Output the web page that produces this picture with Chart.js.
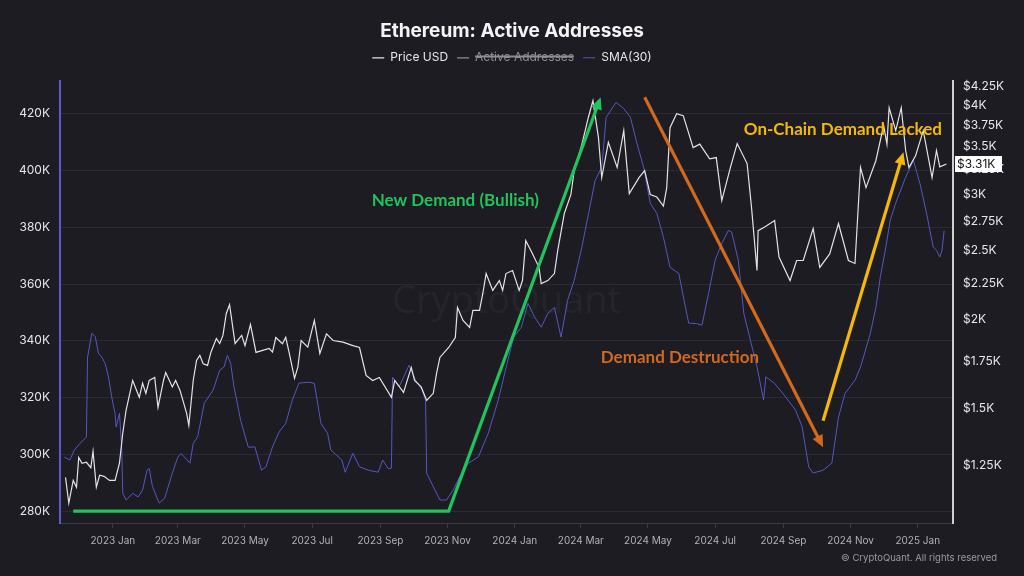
<!DOCTYPE html>
<html>
<head>
<meta charset="utf-8">
<script src="https://cdn.jsdelivr.net/npm/chart.js@4.4.1/dist/chart.umd.min.js"></script>
<style>
  html, body { margin: 0; background: #1c1c22; }
  #wrap { width: 1024px; height: 576px; }
</style>
</head>
<body>
<div id="wrap"><canvas id="chart" width="1024" height="576"></canvas></div>
<script>
// ETH price (USD)
const priceDates = [
  '2022-11-19','2022-11-22','2022-11-26','2022-11-29','2022-12-01','2022-12-04','2022-12-08','2022-12-12','2022-12-14','2022-12-17',
  '2022-12-20','2022-12-24','2022-12-29','2023-01-03','2023-01-07','2023-01-10','2023-01-13','2023-01-16','2023-01-19','2023-01-25',
  '2023-01-28','2023-01-31','2023-02-03','2023-02-08','2023-02-11','2023-02-16','2023-02-18','2023-02-24','2023-02-27','2023-03-03',
  '2023-03-09','2023-03-11','2023-03-15','2023-03-18','2023-03-21','2023-03-24','2023-03-28','2023-03-31','2023-04-05','2023-04-08',
  '2023-04-11','2023-04-14','2023-04-17','2023-04-22','2023-04-28','2023-05-01','2023-05-06','2023-05-11','2023-05-17','2023-05-23',
  '2023-05-26','2023-05-29','2023-06-04','2023-06-07','2023-06-10','2023-06-15','2023-06-18','2023-06-21','2023-06-27','2023-07-03',
  '2023-07-08','2023-07-14','2023-07-20','2023-07-29','2023-08-07','2023-08-13','2023-08-19','2023-08-25','2023-08-31','2023-09-11',
  '2023-09-14','2023-09-22','2023-09-29','2023-10-02','2023-10-08','2023-10-13','2023-10-19','2023-10-22','2023-10-25','2023-11-02',
  '2023-11-08','2023-11-10','2023-11-15','2023-11-21','2023-11-24','2023-11-30','2023-12-03','2023-12-06','2023-12-12','2023-12-18',
  '2023-12-21','2023-12-24','2023-12-30','2024-01-05','2024-01-08','2024-01-11','2024-01-17','2024-01-23','2024-01-25','2024-01-31',
  '2024-02-06','2024-02-09','2024-02-15','2024-02-21','2024-02-24','2024-03-02','2024-03-08','2024-03-12','2024-03-17','2024-03-20',
  '2024-03-26','2024-04-03','2024-04-09','2024-04-14','2024-04-23','2024-04-28','2024-05-03','2024-05-09','2024-05-15','2024-05-18',
  '2024-05-21','2024-05-27','2024-06-02','2024-06-11','2024-06-17','2024-06-26','2024-07-02','2024-07-07','2024-07-15','2024-07-21',
  '2024-07-30','2024-08-03','2024-08-08','2024-08-09','2024-08-15','2024-08-24','2024-08-28','2024-09-07','2024-09-13','2024-09-19',
  '2024-09-28','2024-10-04','2024-10-13','2024-10-21','2024-10-30','2024-11-05','2024-11-10','2024-11-15','2024-11-24','2024-12-01',
  '2024-12-04','2024-12-06','2024-12-12','2024-12-17','2024-12-21','2024-12-24','2024-12-30','2025-01-06','2025-01-14','2025-01-18',
  '2025-01-21','2025-01-27'
];
const priceUSD = [
  1202,1106,1190,1164,1282,1258,1262,1240,1307,1164,
  1210,1206,1190,1190,1258,1386,1493,1567,1644,1557,
  1629,1577,1644,1660,1507,1644,1687,1610,1644,1592,
  1478,1422,1644,1754,1783,1735,1726,1800,1883,1853,
  1902,2042,2100,1853,1902,1840,1970,1800,1812,1823,
  1802,1889,1851,1890,1802,1655,1716,1871,1831,1996,
  1794,1912,1871,1861,1840,1829,1671,1644,1660,1557,
  1644,1582,1715,1644,1610,1541,1577,1682,1771,1829,
  1889,2082,1996,1951,2062,2062,2178,2323,2200,2271,
  2200,2323,2346,2200,2271,2584,2478,2370,2249,2271,
  2323,2502,2821,3000,3241,3530,3857,4062,3605,3168,
  3550,3273,3687,3008,3170,3241,3000,2975,2890,3065,
  3723,3895,3870,3491,3530,3365,3380,2941,3280,3536,
  3315,2880,2346,2669,2700,2758,2450,2271,2423,2423,
  2687,2369,2475,2731,2423,2400,3273,3067,3348,3750,
  3530,3971,3687,3971,3458,3273,3400,3687,3168,3458,
  3280,3310
];

// Active addresses, 30-day SMA (thousands)
const smaDates = [
  '2022-11-18','2022-11-23','2022-11-27','2022-12-02','2022-12-08','2022-12-09','2022-12-13','2022-12-16','2022-12-19','2022-12-22',
  '2022-12-25','2022-12-28','2022-12-31','2023-01-03','2023-01-04','2023-01-07','2023-01-09','2023-01-10','2023-01-13','2023-01-19',
  '2023-01-24','2023-01-28','2023-02-01','2023-02-03','2023-02-06','2023-02-12','2023-02-17','2023-02-24','2023-03-01','2023-03-04',
  '2023-03-12','2023-03-15','2023-03-19','2023-03-22','2023-03-25','2023-04-02','2023-04-08','2023-04-12','2023-04-15','2023-04-18',
  '2023-04-21','2023-04-27','2023-05-04','2023-05-10','2023-05-16','2023-05-20','2023-05-26','2023-06-01','2023-06-07','2023-06-13',
  '2023-06-19','2023-06-28','2023-07-03','2023-07-09','2023-07-15','2023-07-18','2023-07-28','2023-07-31','2023-08-07','2023-08-13',
  '2023-08-21','2023-08-30','2023-09-03','2023-09-08','2023-09-11','2023-09-12','2023-09-18','2023-09-27','2023-10-03','2023-10-09',
  '2023-10-12','2023-10-13','2023-10-19','2023-10-25','2023-10-31','2023-11-06','2023-11-12','2023-11-20','2023-11-29','2023-12-08',
  '2023-12-17','2023-12-25','2023-12-31','2024-01-07','2024-01-13','2024-01-19','2024-01-25','2024-01-31','2024-02-06','2024-02-12',
  '2024-02-18','2024-02-24','2024-03-02','2024-03-08','2024-03-14','2024-03-20','2024-03-24','2024-04-02','2024-04-09','2024-04-15',
  '2024-04-21','2024-04-27','2024-05-03','2024-05-09','2024-05-15','2024-05-21','2024-05-29','2024-06-04','2024-06-07','2024-06-14',
  '2024-06-19','2024-06-25','2024-07-01','2024-07-07','2024-07-13','2024-07-16','2024-07-22','2024-07-27','2024-08-02','2024-08-08',
  '2024-08-14','2024-08-16','2024-08-24','2024-09-03','2024-09-12','2024-09-18','2024-09-21','2024-09-24','2024-09-28','2024-10-07',
  '2024-10-15','2024-10-21','2024-10-27','2024-11-05','2024-11-10','2024-11-19','2024-11-24','2024-11-28','2024-12-03','2024-12-07',
  '2024-12-12','2024-12-21','2024-12-28','2025-01-03','2025-01-09','2025-01-15','2025-01-18','2025-01-21','2025-01-23','2025-01-25'
];
const smaK = [
  299.0,298.0,301.5,303.8,306.1,334.2,342.7,341.4,335.5,334.2,
  332.0,327.3,320.1,314.4,309.6,314.5,302.6,286.3,283.9,286.2,
  285.0,287.4,294.4,295.0,288.6,282.8,284.5,293.3,299.0,300.3,
  296.9,303.8,306.2,312.0,318.0,322.6,329.6,330.8,334.9,332.0,
  323.8,312.0,302.5,302.6,294.4,295.6,302.6,307.9,310.9,319.1,
  325.1,325.4,325.0,310.9,307.4,301.5,298.0,293.7,300.4,295.6,
  294.4,293.7,298.0,295.0,295.1,327.2,323.8,331.4,326.1,322.6,
  319.1,293.4,288.6,283.9,283.9,287.4,292.1,296.9,299.1,307.5,
  319.1,332.0,341.3,344.8,353.2,348.4,344.8,349.6,351.8,341.3,
  354.3,361.3,373.1,384.8,396.5,401.1,418.7,424.0,421.8,418.8,
  409.5,401.2,388.5,384.9,376.5,365.9,363.7,351.9,346.2,346.1,
  345.5,356.7,368.4,374.3,378.9,378.3,368.4,349.7,340.2,330.8,
  319.1,327.3,325.0,320.2,315.6,309.7,302.5,295.5,293.4,294.4,
  296.9,313.1,321.5,326.1,330.7,342.7,351.8,362.5,373.0,382.5,
  388.5,397.6,403.6,395.4,384.9,373.1,371.9,369.5,371.9,378.9
];

const xTickDates = ['2023-01-01','2023-03-01','2023-05-01','2023-07-01','2023-09-01','2023-11-01',
  '2024-01-01','2024-03-01','2024-05-01','2024-07-01','2024-09-01','2024-11-01','2025-01-01'];
const xTickLabels = ['2023 Jan','2023 Mar','2023 May','2023 Jul','2023 Sep','2023 Nov',
  '2024 Jan','2024 Mar','2024 May','2024 Jul','2024 Sep','2024 Nov','2025 Jan'];
const leftTicksK = [280, 300, 320, 340, 360, 380, 400, 420];
const priceTicks = [1250, 1500, 1750, 2000, 2250, 2500, 2750, 3000, 3250, 3500, 3750, 4000, 4250];

// annotation arrows and captions, placed in data space (date, thousands of addresses)
const arrows = [
  { color: '#22c25c', path: [['2022-11-26', 280], ['2023-11-02', 280], ['2024-03-19', 425.8]] },
  { color: '#d2691e', path: [['2024-04-28', 425.8], ['2024-10-07', 302.5]] },
  { color: '#f4b80a', path: [['2024-10-07', 311.8], ['2024-12-19', 406.4]] }
];
const notes = [
  { text: 'New Demand (Bullish)', color: '#22c25c', date: '2023-11-08', k: 389.5 },
  { text: 'Demand Destruction', color: '#d2691e', date: '2024-05-30', k: 334.2 },
  { text: 'On-Chain Demand Lacked', color: '#f4b80a', date: '2024-10-25', k: 414.5 }
];

const day0 = Date.UTC(2023, 0, 1);
const toDay = s => (Date.parse(s) - day0) / 86400000;

Chart.defaults.font.family = 'Inter';

const decor = {
  id: 'decor',
  beforeDraw(chart) {
    const ctx = chart.ctx;
    ctx.save();
    ctx.fillStyle = '#1c1c22';
    ctx.fillRect(0, 0, chart.width, chart.height);
    ctx.restore();
  },
  beforeDatasetsDraw(chart) {
    const { ctx, chartArea: a } = chart;
    ctx.save();
    ctx.fillStyle = 'rgba(255,255,255,0.035)';
    ctx.font = '38px "Open Sans"';
    ctx.textAlign = 'center';
    ctx.textBaseline = 'middle';
    ctx.fillText('CryptoQuant', (a.left + a.right) / 2, (a.top + a.bottom) / 2);
    ctx.restore();
  },
  afterDatasetsDraw(chart) {
    const { ctx, scales } = chart;
    const px = d => scales.x.getPixelForValue(toDay(d));
    const py = v => scales.yL.getPixelForValue(v);
    ctx.save();
    arrows.forEach(a => {
      const pts = a.path.map(p => [px(p[0]), py(p[1])]);
      const [x1, y1] = pts[pts.length - 2];
      const [x2, y2] = pts[pts.length - 1];
      const ang = Math.atan2(y2 - y1, x2 - x1);
      const head = 12;
      ctx.strokeStyle = a.color;
      ctx.fillStyle = a.color;
      ctx.lineWidth = 3.2;
      ctx.lineJoin = 'miter';
      ctx.beginPath();
      pts.forEach((p, i) => {
        const last = i === pts.length - 1;
        const x = last ? p[0] - Math.cos(ang) * head * 0.8 : p[0];
        const y = last ? p[1] - Math.sin(ang) * head * 0.8 : p[1];
        if (i === 0) ctx.moveTo(x, y); else ctx.lineTo(x, y);
      });
      ctx.stroke();
      ctx.beginPath();
      ctx.moveTo(x2, y2);
      ctx.lineTo(x2 - head * Math.cos(ang) + 5.5 * Math.sin(ang), y2 - head * Math.sin(ang) - 5.5 * Math.cos(ang));
      ctx.lineTo(x2 - head * Math.cos(ang) - 5.5 * Math.sin(ang), y2 - head * Math.sin(ang) + 5.5 * Math.cos(ang));
      ctx.closePath();
      ctx.fill();
    });
    ctx.font = 'bold 17px Lato';
    ctx.textAlign = 'center';
    ctx.textBaseline = 'middle';
    notes.forEach(n => {
      ctx.fillStyle = n.color;
      ctx.fillText(n.text, px(n.date), py(n.k));
    });
    ctx.restore();
  },
  afterDraw(chart) {
    const { ctx, chartArea: a, scales } = chart;
    const last = priceUSD[priceUSD.length - 1];
    const y = scales.yR.getPixelForValue(last);
    ctx.save();
    ctx.fillStyle = '#ffffff';
    ctx.fillRect(a.right + 2, y - 8, 47, 16);
    ctx.fillStyle = '#111111';
    ctx.font = '12px Inter';
    ctx.textAlign = 'left';
    ctx.textBaseline = 'middle';
    ctx.fillText('$' + (last / 1000).toFixed(2) + 'K', a.right + 4, y + 0.5);
    ctx.fillStyle = '#9a9aa0';
    ctx.font = '9.5px Inter';
    ctx.textAlign = 'right';
    ctx.fillText('\u00a9 CryptoQuant. All rights reserved', 997, 558);
    ctx.restore();
  }
};

new Chart(document.getElementById('chart'), {
  type: 'line',
  data: {
    datasets: [
      {
        label: 'Price USD',
        data: priceDates.map((d, i) => ({ x: toDay(d), y: priceUSD[i] })),
        yAxisID: 'yR',
        borderColor: '#e4e4e6',
        borderWidth: 1.2,
        pointRadius: 0
      },
      {
        label: 'Active Addresses',
        data: [],
        hidden: true,
        yAxisID: 'yL',
        borderColor: '#8e8e94',
        borderWidth: 1.2,
        pointRadius: 0
      },
      {
        label: 'SMA(30)',
        data: smaDates.map((d, i) => ({ x: toDay(d), y: smaK[i] })),
        yAxisID: 'yL',
        borderColor: '#5656c2',
        borderWidth: 1,
        pointRadius: 0
      }
    ]
  },
  options: {
    responsive: false,
    devicePixelRatio: 1,
    animation: false,
    layout: { padding: 0 },
    scales: {
      x: {
        type: 'linear',
        min: toDay('2022-11-14'),
        max: toDay('2025-02-02'),
        afterBuildTicks: s => { s.ticks = xTickDates.map(d => ({ value: toDay(d) })); },
        afterFit: s => { s.height = 53; },
        ticks: {
          callback: (v, i) => xTickLabels[i],
          color: '#b0b0b6',
          font: { size: 10 },
          maxRotation: 0,
          autoSkip: false,
          padding: 7
        },
        grid: { drawOnChartArea: false, drawTicks: true, tickLength: 5, color: '#3c3c44' },
        border: { display: true, color: '#3c3c44' }
      },
      // empty strip between legend and plot
      gap: {
        type: 'linear',
        position: 'top',
        min: 0,
        max: 1,
        afterFit: s => { s.height = 7; },
        ticks: { display: false },
        grid: { display: false },
        border: { display: false }
      },
      yL: {
        type: 'linear',
        position: 'left',
        min: 275.8,
        max: 431.6,
        afterBuildTicks: s => { s.ticks = leftTicksK.map(v => ({ value: v })); },
        afterFit: s => { s.width = 60; },
        ticks: { callback: v => v + 'K', color: '#e6e6e8', font: { size: 12 }, padding: 10 },
        grid: { color: '#2a2a31', drawTicks: false },
        border: { display: true, color: '#5a5acb', width: 2 }
      },
      yR: {
        type: 'logarithmic',
        position: 'right',
        min: 1037,
        max: 4332,
        afterBuildTicks: s => { s.ticks = priceTicks.map(v => ({ value: v })); },
        afterFit: s => { s.width = 71; },
        ticks: { callback: v => '$' + (v / 1000) + 'K', color: '#e6e6e8', font: { size: 12 }, padding: 10 },
        grid: { drawOnChartArea: false, drawTicks: false },
        border: { display: true, color: '#cfcfd2', width: 2 }
      }
    },
    plugins: {
      tooltip: { enabled: false },
      title: {
        display: true,
        text: 'Ethereum: Active Addresses',
        color: '#f4f4f6',
        font: { size: 19, weight: 'bold' },
        padding: { top: 20, bottom: 0 }
      },
      legend: {
        labels: {
          usePointStyle: true,
          pointStyle: 'line',
          pointStyleWidth: 12,
          padding: 9,
          color: '#e6e6e8',
          font: { size: 12 },
          generateLabels(chart) {
            const items = Chart.defaults.plugins.legend.labels.generateLabels(chart);
            items.forEach(it => { if (it.hidden) it.fontColor = '#8e8e94'; });
            return items;
          }
        }
      }
    }
  },
  plugins: [decor]
});
</script>
</body>
</html>
